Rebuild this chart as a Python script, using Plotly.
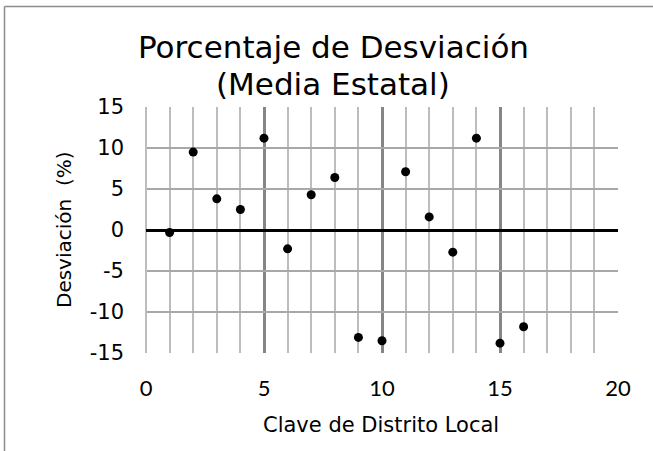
import plotly.graph_objects as go

# Data
distritos = [1, 2, 3, 4, 5, 6, 7, 8, 9, 10, 11, 12, 13, 14, 15, 16]
desviacion = [-0.3, 9.5, 3.8, 2.5, 11.2, -2.3, 4.3, 6.4, -13.1, -13.5, 7.1, 1.6, -2.7, 11.2, -13.8, -11.8]
x_ticks = [0, 5, 10, 15, 20]
y_ticks = [-15, -10, -5, 0, 5, 10, 15]

W, H = 653, 451
L, R, T, B = 146, 35, 107, 98
PW, PH = W - L - R, H - T - B

def px(x):
    return (x - L) / PW

def py(y):
    return (H - B - y) / PH

TITLE_FONT = "DejaVu Sans"
BORDER = dict(color="#8c8c8c", width=1.5)

fig = go.Figure()
fig.add_trace(go.Scatter(
    x=distritos, y=desviacion, mode="markers",
    marker=dict(color="black", size=9),
    showlegend=False, hoverinfo="x+y",
))

fig.update_layout(
    width=W, height=H,
    margin=dict(l=L, r=R, t=T, b=B),
    paper_bgcolor="white", plot_bgcolor="white",
    showlegend=False,
    xaxis=dict(
        range=[0, 20], tickvals=x_ticks, ticktext=[str(v) for v in x_ticks],
        showgrid=True, gridcolor="#868686", gridwidth=3,
        minor=dict(dtick=1, showgrid=True, gridcolor="#bdbdbd", gridwidth=1.5),
        zeroline=True, zerolinecolor="#bdbdbd", zerolinewidth=1.5,
        showline=False, ticks="",
        tickfont=dict(family="Lato", size=22, color="black"),
        ticklabelstandoff=20,
        fixedrange=True,
    ),
    yaxis=dict(
        range=[-15, 15], tickvals=y_ticks, ticktext=[str(v) for v in y_ticks],
        showgrid=True, gridcolor="#a8a8a8", gridwidth=1.5,
        zeroline=True, zerolinecolor="black", zerolinewidth=3,
        showline=False, ticks="",
        tickfont=dict(family=TITLE_FONT, size=21, color="black"),
        ticklabelstandoff=21,
        fixedrange=True,
    ),
    shapes=[
        dict(type="line", xref="paper", yref="paper",
             x0=px(4.5), x1=px(4.5), y0=py(451), y1=py(6.5), line=BORDER, layer="above"),
        dict(type="line", xref="paper", yref="paper",
             x0=px(4.5), x1=px(653), y0=py(6.5), y1=py(6.5), line=BORDER, layer="above"),
    ],
    annotations=[
        dict(text="Porcentaje de Desviación", xref="paper", yref="paper",
             x=px(333), y=py(67), xanchor="center", yanchor="bottom",
             showarrow=False, font=dict(family=TITLE_FONT, size=31, color="black")),
        dict(text="(Media Estatal)", xref="paper", yref="paper",
             x=px(333), y=py(104), xanchor="center", yanchor="bottom",
             showarrow=False, font=dict(family=TITLE_FONT, size=31, color="black")),
        dict(text="Clave de Distrito Local", xref="paper", yref="paper",
             x=px(381), y=py(425), xanchor="center", yanchor="middle",
             showarrow=False, font=dict(family=TITLE_FONT, size=21, color="black")),
        dict(text="Desviación  (%)", xref="paper", yref="paper",
             x=px(64), y=py(230), xanchor="center", yanchor="middle", textangle=-90,
             showarrow=False, font=dict(family=TITLE_FONT, size=20, color="black")),
    ],
)

fig.write_html("out.html", config={"displayModeBar": False},
               post_script="document.body.style.margin='0px';")
